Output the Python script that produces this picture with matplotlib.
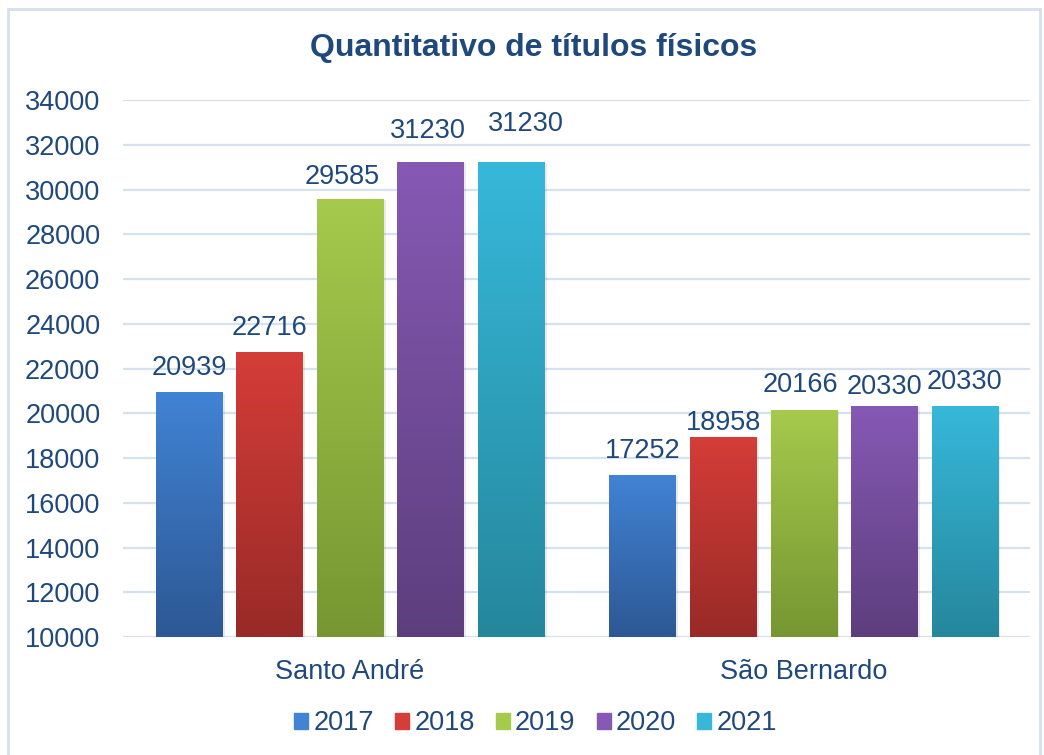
import matplotlib.pyplot as plt
import numpy as np
from matplotlib.colors import LinearSegmentedColormap
from matplotlib.patches import Rectangle

plt.rcParams['font.family'] = ['Liberation Sans', 'DejaVu Sans']

# dados
cidades = ['Santo André', 'São Bernardo']
anos = ['2017', '2018', '2019', '2020', '2021']
valores = {
    '2017': [20939, 17252],
    '2018': [22716, 18958],
    '2019': [29585, 20166],
    '2020': [31230, 20330],
    '2021': [31230, 20330],
}
# cor do topo / cor da base (gradiente)
cores_topo = ['#4183D4', '#D53D38', '#A5CA4C', '#8659B4', '#37B8DA']
cores_base = ['#2D5894', '#982A27', '#769632', '#5D3E7D', '#25879C']

azul_texto = '#1F497D'
# rótulos arrastados à mão no original: (cidade, ano) -> (dx, dy) em pixels
ajuste_rotulo = {
    (0, '2019'): (-8, -2),
    (0, '2020'): (-3, 7),
    (0, '2021'): (15, 14),
    (1, '2018'): (0, -10),
    (1, '2019'): (-3, 1),
    (1, '2020'): (0, -5),
}

fig = plt.figure(figsize=(10.44, 7.55), dpi=100)
ax = fig.add_axes([0.118, 0.1563, 0.869, 0.7112])

x = np.arange(len(cidades))
passo = 0.1775
largura = 0.146

ax.set_xlim(-0.5, 1.5)
ax.set_ylim(10000, 34000)

for i, ano in enumerate(anos):
    pos = x + (i - 2) * passo
    barras = ax.bar(pos, np.array(valores[ano]) - 10000, largura, bottom=10000,
                    color=cores_topo[i], label=ano, zorder=2)
    cmap = LinearSegmentedColormap.from_list('g%d' % i, [cores_base[i], cores_topo[i]])
    grad = np.linspace(0, 1, 256).reshape(-1, 1)
    for j, (b, v) in enumerate(zip(barras, valores[ano])):
        x0 = b.get_x()
        w = b.get_width()
        # sombra leve
        ax.add_patch(Rectangle((x0 + 0.006, 10000), w, v - 10000 - 60,
                               color='#000000', alpha=0.08, zorder=1.5, lw=0))
        im = ax.imshow(grad, cmap=cmap, origin='lower', aspect='auto',
                       extent=(x0, x0 + w, 10000, v), zorder=2.5)
        im.set_clip_path(b)
        dx, dy = ajuste_rotulo.get((j, ano), (0, 0))
        ax.annotate(str(v), (x0 + w / 2, v), xytext=(dx, 11 + dy),
                    textcoords='offset pixels', ha='center', va='bottom',
                    fontsize=19.5, color=azul_texto, zorder=4)

ax.set_yticks(np.arange(10000, 34001, 2000))
ax.yaxis.grid(True, color='#D6E1F0', lw=1.6, zorder=0)
ax.set_axisbelow(True)
for s in ax.spines.values():
    s.set_visible(False)
ax.tick_params(axis='both', length=0, labelsize=19.5, labelcolor=azul_texto)
ax.tick_params(axis='y', pad=16.5)
ax.tick_params(axis='x', pad=15.5)
ax.set_xticks(x)
ax.set_xticklabels(cidades)

fig.text(0.511, 0.937, 'Quantitativo de títulos físicos', ha='center', va='center',
         fontsize=23, fontweight='bold', color=azul_texto)

handles = [Rectangle((0, 0), 1, 1, color=c) for c in cores_topo]
leg = fig.legend(handles, anos, loc='center', bbox_to_anchor=(0.513, 0.042), ncol=5,
                 frameon=False, fontsize=19.5, handlelength=0.52, handleheight=0.52,
                 handletextpad=0.19, columnspacing=0.78, borderpad=0, borderaxespad=0)
for t in leg.get_texts():
    t.set_color(azul_texto)

# borda externa
fig.patches.append(Rectangle((0.008, -0.01), 0.988, 0.998, transform=fig.transFigure,
                             fill=False, edgecolor='#D5E0EE', lw=2))

fig.savefig('out.png', dpi=100)
